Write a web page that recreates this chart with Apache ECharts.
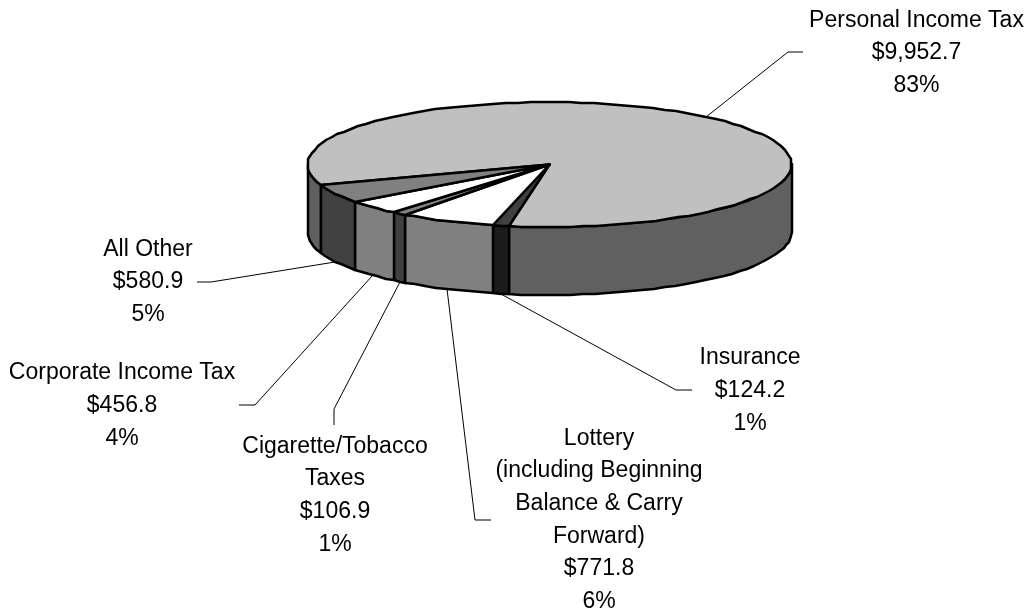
<!DOCTYPE html>
<html>
<head>
<meta charset="utf-8">
<style>html,body{margin:0;padding:0;background:#fff}#c{width:1029px;height:611px}</style>
<script src="https://cdn.jsdelivr.net/npm/echarts@6/dist/echarts.min.js"></script>
</head>
<body>
<div id="c"></div>
<script>
// ---- data (clockwise from the first slice) ----
var categories = ['Personal Income Tax', 'Insurance', 'Lottery (including Beginning Balance & Carry Forward)', 'Cigarette/Tobacco Taxes', 'Corporate Income Tax', 'All Other'];
var nameLines = [['Personal Income Tax'], ['Insurance'], ['Lottery', '(including Beginning', 'Balance & Carry', 'Forward)'], ['Cigarette/Tobacco', 'Taxes'], ['Corporate Income Tax'], ['All Other']];
var values = [9952.7, 124.2, 771.8, 106.9, 456.8, 580.9];
var percents = ['83%', '1%', '6%', '1%', '4%', '5%'];

// ---- styles ----
var topColors = ['#C0C0C0', '#404040', '#FFFFFF', '#808080', '#FFFFFF', '#808080'];
var wallColors = ['#606060', '#1C1C1C', '#808080', '#404040', '#808080', '#404040'];

// ---- layout ----
var CX = 549.5, CY = 164.5, RX = 242, RY = 62.5, DEPTH = 68, START = 251;
var FONT_SIZE = 23, LINE_H = 32.6;
var labelCenters = [[916.5, 20.5], [750, 358], [599, 438.5], [335, 446.5], [122, 373], [148, 249.5]];
var leaderBends = [[[788, 52], [803, 52]], [[676, 390], [692, 390]], [[475, 520], [491, 520]], [[334, 409], [334, 425]], [[255, 405], [239, 405]], [[211, 282], [197, 282]]];

var total = values.reduce(function (a, b) { return a + b; }, 0);
function pt(deg, dy) {
  var r = deg * Math.PI / 180;
  return [Math.round(CX + RX * Math.sin(r)), Math.round(CY - RY * Math.cos(r) + (dy || 0))];
}
function arc(a, b, dy) {
  var n = Math.max(1, Math.ceil(Math.abs(b - a) / 3)), out = [];
  for (var i = 0; i <= n; i++) out.push(pt(a + (b - a) * i / n, dy));
  return out;
}
function sliceAngles(i) {
  var s = START;
  for (var k = 0; k < i; k++) s += values[k] / total * 360;
  return [s, s + values[i] / total * 360];
}
function wallSpans(a, b) {
  var spans = [];
  [[90, 270], [450, 630]].forEach(function (w) {
    var lo = Math.max(a, w[0]), hi = Math.min(b, w[1]);
    if (hi > lo) spans.push([lo, hi]);
  });
  return spans;
}
var outline = { stroke: '#000', lineWidth: 2.5, lineJoin: 'round' };

function renderSlice(params, api) {
  var i = api.value(0), ang = sliceAngles(i), children = [];
  wallSpans(ang[0], ang[1]).forEach(function (sp) {
    var pts = arc(sp[0], sp[1], 0).concat(arc(sp[1], sp[0], DEPTH));
    children.push({ type: 'polygon', shape: { points: pts }, style: Object.assign({ fill: wallColors[i] }, outline) });
  });
  var topPts = [[CX, CY]].concat(arc(ang[0], ang[1], 0));
  children.push({ type: 'polygon', z2: 5, shape: { points: topPts }, style: Object.assign({ fill: topColors[i] }, outline) });
  return { type: 'group', children: children };
}
function renderLabel(params, api) {
  var i = api.value(0), ang = sliceAngles(i), mid = (ang[0] + ang[1]) / 2, m = mid % 360;
  var anchor = pt(mid, (m > 90 && m < 270) ? DEPTH : 0);
  var lines = nameLines[i].concat(['$' + values[i].toLocaleString('en-US', { minimumFractionDigits: 1 }), percents[i]]);
  return {
    type: 'group',
    children: [
      { type: 'polyline', shape: { points: [anchor].concat(leaderBends[i]) }, style: { stroke: '#000', lineWidth: 1, fill: null } },
      { type: 'text', style: { x: labelCenters[i][0], y: labelCenters[i][1] - LINE_H / 2, text: lines.join('\n'), align: 'center', verticalAlign: 'top', lineHeight: LINE_H, fontFamily: '"Liberation Sans", Arial, sans-serif', fontSize: FONT_SIZE, fill: '#000' } }
    ]
  };
}
var rows = values.map(function (v, i) { return [i, v, categories[i]]; });
var chart = echarts.init(document.getElementById('c'), null, { renderer: 'canvas' });
chart.setOption({
  animation: false,
  backgroundColor: '#fff',
  series: [
    { type: 'custom', coordinateSystem: 'none', silent: true, data: rows, renderItem: renderLabel, z: 1 },
    { type: 'custom', coordinateSystem: 'none', silent: true, data: rows, renderItem: renderSlice, z: 2 }
  ]
});
</script>
</body>
</html>
